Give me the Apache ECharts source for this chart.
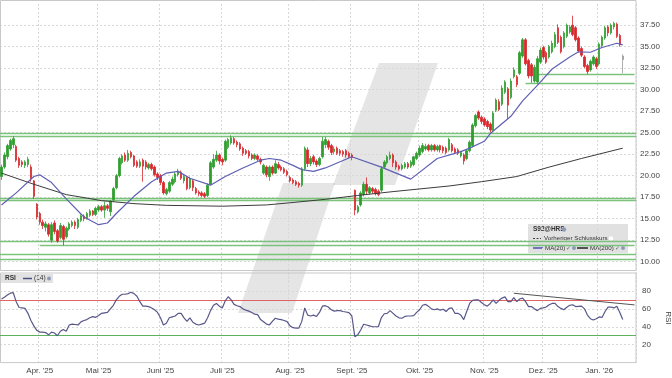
<!DOCTYPE html>
<html>
<head>
    <meta charset="utf-8"/>
    <title>S92 Kurs und RSI</title>
    <style type="text/css">
        html, body { margin: 0; padding: 0; background: #fff; }
        #main { width: 672px; height: 378px; }
    </style>
    <script type="text/javascript" src="https://cdn.jsdelivr.net/npm/echarts@6/dist/echarts.min.js"></script>
</head>
<body>
<div id="main"></div>
<script type="text/javascript">

    // Monate auf der x-Achse und Handelstage je Monat
    var months = ["Mär. '25", "Apr. '25", "Mai '25", "Juni '25", "Juli '25", "Aug. '25",
        "Sept. '25", "Okt. '25", "Nov. '25", "Dez. '25", "Jan. '26"];
    var monthDays = [13, 20, 21, 21, 23, 21, 23, 22, 20, 19, 9];
    var padDays = 4;

    // Tageskerzen (Eröffnung, Schluss, Tief, Hoch)
    var opens = [
        19.9, 21.0, 22.2, 23.1, 23.6, 23.4, 22.0, 21.6, 21.2, 21.3,
        21.0, 19.4, 16.7, 15.6, 14.6, 14.0, 14.3, 12.5, 14.5, 13.6,
        12.8, 14.1, 12.9, 13.8, 14.2, 14.6, 14.0, 14.8, 15.3, 15.0,
        15.4, 15.9, 15.5, 16.0, 16.4, 16.0, 16.5, 15.8, 17.2, 18.6,
        20.0, 21.5, 22.4, 21.8, 22.7, 22.3, 21.6, 21.1, 21.8, 21.6,
        20.9, 21.3, 21.0, 20.2, 20.0, 19.2, 17.9, 18.2, 19.0, 19.3,
        20.1, 20.4, 19.4, 19.8, 18.6, 19.4, 18.5, 18.1, 18.0, 17.9,
        17.7, 19.0, 21.0, 21.8, 22.4, 21.9, 21.8, 23.3, 23.8, 24.3,
        23.9, 23.7, 23.2, 22.9, 22.8, 22.4, 22.0, 22.3, 21.9, 20.3,
        21.0, 19.9, 21.0, 20.3, 21.3, 21.0, 20.8, 20.5, 19.8, 19.5,
        19.3, 19.1, 18.9, 20.8, 23.0, 21.4, 22.2, 21.7, 21.3, 22.2,
        23.6, 24.0, 23.5, 22.8, 23.2, 22.9, 22.8, 22.9, 22.6, 22.4,
        18.3, 15.8, 16.6, 17.8, 19.0, 18.0, 18.5, 18.4, 18.2, 18.3,
        21.0, 21.5, 22.0, 22.4, 21.6, 21.1, 20.8, 21.0, 21.4, 21.1,
        21.3, 22.0, 22.4, 22.8, 23.1, 23.5, 23.0, 23.5, 23.0, 23.5,
        23.3, 23.2, 23.0, 23.6, 23.1, 23.0, 22.3, 22.4, 22.0, 22.9,
        23.5, 25.8, 27.4, 26.8, 26.6, 26.3, 26.0, 25.3, 27.6, 28.6,
        28.3, 29.7, 30.1, 29.1, 31.5, 31.5, 31.9, 33.9, 35.8, 33.4,
        32.9, 31.0, 30.9, 33.2, 34.9, 34.3, 33.8, 34.4, 35.0, 37.2,
        36.1, 35.0, 36.2, 36.7, 37.5, 37.2, 36.0, 34.8, 33.8, 32.8,
        32.3, 33.0, 33.6, 33.0, 35.1, 36.0, 37.3, 36.6, 37.3, 37.6,
        36.3, 33.9
    ];
    var closes = [
        21.0, 22.4, 23.5, 24.1, 24.3, 21.8, 21.2, 21.3, 21.6, 21.9,
        19.7, 17.6, 15.2, 14.6, 14.2, 14.4, 13.2, 14.3, 13.5, 12.4,
        14.2, 12.6, 13.9, 14.4, 14.6, 14.2, 14.9, 15.3, 15.0, 15.6,
        15.9, 15.5, 16.2, 16.4, 16.0, 16.5, 16.2, 17.0, 18.5, 20.0,
        22.0, 22.3, 21.8, 22.6, 22.2, 21.2, 21.1, 21.6, 21.1, 21.0,
        21.3, 20.8, 20.1, 19.8, 19.2, 18.0, 18.4, 19.2, 19.6, 20.2,
        20.5, 19.7, 19.9, 18.5, 19.6, 18.6, 18.0, 17.9, 17.7, 17.6,
        18.9, 21.5, 21.9, 22.4, 21.7, 21.6, 24.0, 24.2, 24.4, 23.8,
        23.6, 23.1, 22.6, 22.6, 22.3, 22.0, 22.4, 21.9, 21.6, 21.2,
        20.1, 21.0, 20.3, 21.4, 20.9, 20.7, 20.4, 20.1, 19.4, 19.2,
        19.0, 18.9, 20.8, 23.2, 21.4, 22.0, 21.6, 21.3, 22.0, 24.0,
        24.2, 23.3, 22.7, 23.1, 22.6, 22.6, 22.5, 22.4, 22.2, 22.1,
        16.0, 16.4, 18.0, 19.0, 18.2, 18.6, 18.2, 17.9, 17.8, 20.8,
        21.6, 22.2, 22.4, 21.5, 21.0, 20.8, 21.2, 21.4, 21.0, 21.6,
        22.2, 22.6, 23.2, 23.5, 23.4, 23.0, 23.5, 23.0, 23.4, 23.0,
        22.9, 22.7, 24.2, 22.9, 22.7, 22.6, 22.7, 21.7, 22.9, 23.9,
        25.9, 27.0, 26.7, 26.3, 25.9, 25.7, 25.3, 27.3, 28.8, 27.7,
        30.2, 30.9, 28.2, 31.0, 32.3, 30.6, 34.3, 35.8, 33.0, 31.6,
        31.6, 32.6, 33.6, 34.6, 33.8, 33.2, 35.0, 35.4, 36.4, 35.5,
        34.4, 36.6, 37.5, 37.3, 36.4, 35.8, 34.5, 34.0, 32.7, 32.1,
        33.3, 33.8, 32.7, 35.3, 36.1, 37.2, 36.6, 37.5, 37.7, 36.2,
        35.2, 33.5
    ];
    var lows = [
        19.5, 20.8, 21.9, 22.9, 23.2, 21.6, 20.9, 21.0, 20.9, 21.0,
        19.3, 17.3, 14.9, 14.3, 13.8, 13.5, 12.9, 12.2, 13.2, 12.2,
        12.6, 11.9, 12.7, 13.6, 14.0, 13.8, 13.8, 14.6, 14.7, 14.9,
        15.2, 15.3, 15.3, 15.8, 15.8, 15.1, 15.9, 15.3, 17.0, 18.4,
        19.8, 21.3, 21.6, 21.6, 22.0, 21.0, 20.9, 20.9, 19.3, 20.7,
        20.7, 20.6, 19.9, 19.5, 18.9, 17.8, 17.7, 18.0, 18.8, 19.1,
        19.9, 19.5, 19.1, 18.3, 18.4, 18.2, 17.8, 17.6, 17.5, 17.4,
        17.5, 18.9, 20.8, 21.6, 21.3, 21.2, 21.6, 23.1, 23.6, 23.6,
        23.3, 22.9, 22.3, 22.4, 22.0, 21.8, 21.8, 21.7, 21.3, 20.1,
        19.8, 19.4, 20.1, 20.2, 20.7, 20.5, 20.2, 19.9, 19.2, 19.0,
        18.8, 18.6, 18.7, 20.6, 21.0, 21.1, 21.3, 21.0, 21.1, 22.0,
        23.2, 23.0, 22.4, 22.5, 22.4, 22.3, 22.2, 22.1, 22.0, 21.8,
        15.4, 15.6, 16.4, 17.6, 17.8, 17.8, 17.9, 17.7, 17.6, 18.1,
        20.8, 21.3, 21.8, 21.0, 20.7, 20.6, 20.6, 20.8, 20.8, 20.9,
        21.1, 21.8, 22.2, 22.6, 22.9, 22.8, 22.8, 22.8, 22.8, 22.7,
        22.6, 22.5, 22.8, 22.7, 22.5, 22.4, 22.1, 21.3, 21.8, 22.7,
        23.3, 25.6, 26.5, 26.0, 25.7, 25.4, 25.0, 25.1, 27.4, 27.5,
        28.1, 29.5, 26.6, 28.9, 31.3, 30.3, 31.7, 33.7, 32.8, 31.3,
        30.8, 30.8, 30.7, 33.0, 33.5, 33.0, 33.6, 34.2, 34.8, 35.3,
        34.2, 34.8, 36.0, 36.5, 36.2, 35.6, 34.3, 33.8, 32.5, 31.8,
        32.1, 32.8, 32.4, 32.8, 34.9, 35.8, 36.2, 36.4, 37.0, 36.0,
        35.0, 31.9
    ];
    var highs = [
        21.3, 22.7, 23.7, 24.3, 24.6, 23.6, 22.2, 21.8, 21.8, 22.2,
        21.3, 19.5, 16.8, 15.8, 14.9, 14.7, 14.5, 14.6, 14.8, 13.8,
        14.5, 14.3, 14.1, 14.6, 14.8, 14.8, 15.1, 15.5, 15.5, 15.8,
        16.1, 16.0, 16.4, 16.6, 16.6, 17.0, 16.7, 17.2, 18.7, 20.2,
        22.2, 22.5, 22.7, 23.0, 22.9, 22.4, 21.8, 21.9, 22.0, 21.8,
        21.5, 21.5, 21.2, 20.4, 20.2, 19.4, 18.6, 19.4, 19.9, 20.4,
        20.8, 20.6, 20.2, 20.0, 19.9, 19.6, 18.7, 18.3, 18.2, 18.1,
        19.1, 21.7, 22.5, 22.9, 22.6, 22.1, 24.2, 24.4, 24.7, 24.5,
        24.1, 23.9, 23.4, 23.1, 23.0, 22.6, 22.6, 22.5, 22.1, 21.4,
        21.2, 21.2, 21.2, 21.8, 21.6, 21.2, 21.0, 20.7, 20.0, 19.7,
        19.5, 19.3, 21.0, 23.4, 23.3, 22.3, 22.4, 21.9, 22.2, 24.5,
        24.5, 24.2, 23.7, 23.4, 23.4, 23.1, 23.0, 23.1, 22.8, 22.6,
        18.4, 16.6, 18.2, 19.3, 19.8, 18.8, 18.7, 18.6, 18.4, 21.1,
        21.8, 22.4, 22.8, 22.6, 21.8, 21.3, 21.4, 21.6, 21.6, 21.8,
        22.3, 22.8, 23.5, 23.8, 23.7, 23.7, 23.7, 23.7, 23.6, 23.6,
        23.5, 23.4, 24.4, 23.8, 23.3, 23.2, 22.9, 22.6, 23.1, 24.1,
        26.1, 27.2, 27.6, 27.0, 26.8, 26.5, 26.2, 27.5, 29.0, 28.9,
        30.5, 31.1, 30.3, 31.3, 32.6, 31.7, 34.5, 36.0, 36.0, 33.6,
        33.1, 32.9, 33.9, 34.9, 35.1, 34.5, 35.2, 35.7, 36.7, 37.6,
        36.3, 36.8, 37.7, 37.5, 38.6, 37.4, 36.2, 35.0, 34.0, 33.0,
        33.5, 34.0, 33.8, 35.5, 36.3, 37.4, 37.5, 37.7, 37.9, 37.8,
        36.5, 34.1
    ];

    // gleitende Durchschnitte: [Handelstag, Wert]
    var ma20 = [[0, 16.6], [5, 18.0], [11, 19.9], [13, 20.1], [17, 19.2], [22, 17.3], [28, 15.2],
        [33, 14.3], [36, 14.5], [39, 15.6], [45, 17.6], [51, 19.3], [56, 20.3], [60, 20.5],
        [64, 19.7], [71, 18.9], [76, 19.9], [82, 20.9], [88, 21.8], [91, 22.0], [95, 21.8],
        [99, 21.2], [102, 20.7], [106, 20.5], [110, 20.9], [119, 22.2], [129, 21.0],
        [139, 19.6], [148, 22.0], [156, 22.8], [159, 23.2], [164, 24.0], [166, 24.9],
        [173, 26.9], [177, 28.7], [182, 30.5], [187, 32.4], [193, 33.8], [196, 34.4],
        [200, 34.35], [204, 34.9], [209, 35.4], [211, 35.2]];
    var ma200 = [[0, 20.3], [11, 19.0], [22, 17.8], [34, 17.1], [45, 16.75], [56, 16.55],
        [75, 16.45], [90, 16.6], [98, 16.85], [110, 17.25], [121, 17.7], [133, 18.15],
        [152, 18.8], [163, 19.3], [175, 19.9], [186, 21.0], [197, 22.0], [211, 23.2]];

    // RSI (14)
    var rsi = [
        71, 73, 75.5, 77.5, 78, 68, 61.5, 61, 60.5, 55,
        47, 41, 36, 34, 34, 33.5, 31, 34, 33, 30,
        35, 37, 35, 42, 43, 42.5, 42, 45.5, 47, 48,
        50, 51.3, 50.5, 52.5, 55, 55.5, 56, 60, 64, 70,
        74, 76.3, 76.3, 77, 78.5, 77, 74, 68, 63, 63,
        62.5, 61, 59, 56, 50, 42, 44, 50, 51, 52,
        55, 55, 50, 46, 50, 45, 43, 42, 43, 44,
        50, 58, 64, 66, 63, 61, 69, 73.5, 70, 65,
        63.5, 62.5, 60, 58.5, 57.5, 56, 54, 53.5, 48, 45.5,
        43, 42, 46, 49.5, 48.5, 48, 47, 45.7, 41, 39,
        38.5, 38.5, 46, 61, 53, 52, 53, 51.5, 56, 63,
        63.5, 62, 59, 57.5, 58, 58, 57, 56.5, 55.7, 52,
        29, 31, 36.4, 42.8, 42, 41, 40, 40, 40, 50,
        54.5, 55, 58, 55, 52, 50, 49.5, 51.5, 52, 52,
        52.5, 56, 59, 64, 65, 63, 60, 59, 60, 58.5,
        59.6, 57, 60.5, 61, 55, 55, 53, 48, 57, 66,
        69.5, 70, 70, 67, 64.6, 63, 66, 70, 66, 69.5,
        72, 73.3, 68, 68, 72.5, 68, 71, 72, 68, 62.5,
        62.5, 60, 58, 60.5, 61, 62, 64.6, 66, 66, 62.5,
        60.5, 59, 61.8, 64, 64.5, 62.5, 62.8, 63, 60, 53,
        49, 47.5, 49, 51, 50.5, 57, 62, 62, 61, 63,
        56, 48
    ];

    // Unterstützungen / Widerstände
    var supportLines = [24.9, 24.55, 17.4, 17.15, 12.33, 10.9, 10.3];
    var partialLines = [[13, 11.9], [178, 30.8], [182, 31.83]];
    var rsiLevels = [70, 30];
    var rsiTrend = [[174, 77.4], [215, 64.4]];

    var categories = [];
    var labelAt = {};
    months.forEach(function (m, k) {
        if (k > 0) {
            labelAt[categories.length] = m;
        }
        for (var d = 0; d < monthDays[k]; d++) {
            categories.push(m + ' ' + (d + 1));
        }
    });
    for (var p = 0; p < padDays; p++) {
        categories.push('frei ' + p);
    }
    var lastIdx = categories.length - 1;

    var candles = opens.map(function (o, i) {
        var item = {value: [o, closes[i], lows[i], highs[i]]};
        if (i === opens.length - 1) {
            // laufender Handelstag grau
            item.itemStyle = {color: '#9a9a9a', color0: '#9a9a9a', borderColor: '#9a9a9a', borderColor0: '#9a9a9a'};
        }
        return item;
    });

    var isMonthStart = function (i) {
        return labelAt[i] !== undefined;
    };

    var priceMarks = supportLines.map(function (v) {
        return {yAxis: v};
    });
    partialLines.forEach(function (pl) {
        priceMarks.push([{coord: [pl[0], pl[1]]}, {coord: [lastIdx, pl[1]]}]);
    });

    var rsiMarks = [
        {yAxis: rsiLevels[0], lineStyle: {color: '#e06464', width: 1, type: 'solid'}},
        {yAxis: rsiLevels[1], lineStyle: {color: '#5cb25c', width: 1, type: 'solid'}},
        [{coord: rsiTrend[0], lineStyle: {color: '#555', width: 1, type: 'solid'}}, {coord: rsiTrend[1]}]
    ];

    var font = 'Liberation Sans, Arial, sans-serif';
    var gridLine = {color: '#d8d8d8', type: [2, 2], width: 1};

    var myChart = echarts.init(document.getElementById('main'));

    var option = {
        animation: false,
        backgroundColor: '#fff',
        textStyle: {fontFamily: font},
        grid: [
            {left: 0, right: 36, top: 4, height: 279.2, outerBoundsMode: 'none'},
            {left: 0, right: 36, top: 273, height: 89.6, outerBoundsMode: 'none'}
        ],
        xAxis: [
            {
                type: 'category', gridIndex: 0, data: categories, boundaryGap: true,
                axisLine: {show: false}, axisTick: {show: false}, axisLabel: {show: false},
                splitLine: {show: true, interval: isMonthStart, lineStyle: gridLine}
            },
            {
                type: 'category', gridIndex: 1, data: categories, boundaryGap: true,
                axisLine: {show: false}, axisTick: {show: false},
                axisLabel: {
                    interval: isMonthStart, margin: 4, fontSize: 8, color: '#444', fontFamily: font,
                    formatter: function (v, i) {
                        return labelAt[i] || '';
                    }
                },
                splitLine: {show: true, interval: isMonthStart, lineStyle: gridLine}
            }
        ],
        yAxis: [
            {
                type: 'value', gridIndex: 0, position: 'right', min: 7.5, max: 39.96, interval: 2.5,
                axisLine: {show: false}, axisTick: {show: false},
                axisLabel: {
                    margin: 4, fontSize: 8, color: '#444', fontFamily: font,
                    showMinLabel: false, showMaxLabel: false,
                    formatter: function (v) {
                        return v.toFixed(2);
                    }
                },
                splitLine: {show: true, showMinLine: false, showMaxLine: false, lineStyle: gridLine},
                name: 'Kurs', nameLocation: 'middle', nameRotate: -90, nameGap: 28,
                nameTextStyle: {fontSize: 8, color: '#444', fontFamily: font}
            },
            {
                type: 'value', gridIndex: 1, position: 'right', min: 0, max: 100, interval: 20,
                axisLine: {show: false}, axisTick: {show: false},
                axisLabel: {margin: 6, fontSize: 8, color: '#444', fontFamily: font, showMinLabel: false, showMaxLabel: false},
                splitLine: {show: true, showMinLine: false, showMaxLine: false, lineStyle: gridLine},
                name: 'RSI', nameLocation: 'middle', nameRotate: -90, nameGap: 28,
                nameTextStyle: {fontSize: 8, color: '#444', fontFamily: font}
            }
        ],
        series: [
            {
                name: 'S92@HRS', type: 'candlestick', xAxisIndex: 0, yAxisIndex: 0,
                data: candles, barWidth: 2, z: 3,
                itemStyle: {color: '#2f9e2f', color0: '#d8282d', borderColor: '#2f9e2f', borderColor0: '#d8282d', borderWidth: 0.8},
                markLine: {
                    silent: true, symbol: ['none', 'none'], label: {show: false}, z: 2,
                    lineStyle: {color: '#7cc27c', width: 1.3, type: 'solid'},
                    data: priceMarks
                }
            },
            {
                name: 'MA(200)', type: 'line', xAxisIndex: 0, yAxisIndex: 0, data: ma200,
                showSymbol: false, z: 4, lineStyle: {color: '#3c3c3c', width: 1}
            },
            {
                name: 'MA(20)', type: 'line', xAxisIndex: 0, yAxisIndex: 0, data: ma20,
                showSymbol: false, z: 5, lineStyle: {color: '#5f5fb4', width: 1.2}
            },
            {
                name: 'RSI', type: 'line', xAxisIndex: 1, yAxisIndex: 1, data: rsi,
                showSymbol: false, z: 5, lineStyle: {color: '#57578a', width: 1.2},
                markLine: {silent: true, symbol: ['none', 'none'], label: {show: false}, data: rsiMarks}
            }
        ],
        graphic: [
            // Wasserzeichen
            {
                type: 'polygon', z: 0, silent: true,
                shape: {points: [[379, 63], [438, 63], [395, 185], [333, 185]]},
                style: {fill: 'rgba(0,0,0,0.1)'}
            },
            {
                type: 'polygon', z: 0, silent: true,
                shape: {points: [[283, 183], [335, 183], [292, 313], [238, 313]]},
                style: {fill: 'rgba(0,0,0,0.1)'}
            },
            // Rahmen der Panels
            {type: 'rect', z: 1, silent: true, shape: {x: 0.5, y: 0.5, width: 635.5, height: 270}, style: {fill: null, stroke: '#c8c8c8', lineWidth: 1}},
            {type: 'rect', z: 1, silent: true, shape: {x: 0.5, y: 273, width: 635.5, height: 89.6}, style: {fill: null, stroke: '#c8c8c8', lineWidth: 1}},
            // Legende Kurs
            {
                type: 'group', left: 528, top: 224, z: 100,
                children: [
                    {type: 'rect', shape: {x: 0, y: 0, width: 100, height: 29}, style: {fill: 'rgba(222,222,222,0.9)'}},
                    {type: 'text', style: {x: 5, y: 5.5, text: 'S92@HRS', font: 'bold 6.5px ' + font, fill: '#333', verticalAlign: 'middle'}},
                    {type: 'circle', shape: {cx: 36, cy: 5.5, r: 2.2}, style: {fill: '#8d9bb8'}},
                    {type: 'line', shape: {x1: 5, y1: 14.5, x2: 13, y2: 14.5}, style: {stroke: '#444', lineWidth: 1, lineDash: [2, 1.5]}},
                    {type: 'text', style: {x: 16, y: 14.5, text: 'Vorheriger Schlusskurs', font: '6.2px ' + font, fill: '#333', verticalAlign: 'middle'}},
                    {type: 'circle', shape: {cx: 83, cy: 14.5, r: 2.2}, style: {fill: '#fff'}},
                    {type: 'line', shape: {x1: 5, y1: 24, x2: 15, y2: 24}, style: {stroke: '#4d4db0', lineWidth: 1.5}},
                    {type: 'text', style: {x: 17, y: 24, text: 'MA(20)', font: '6.2px ' + font, fill: '#333', verticalAlign: 'middle'}},
                    {type: 'text', style: {x: 38, y: 24, text: '\u2713', font: '6px ' + font, fill: '#666', verticalAlign: 'middle'}},
                    {type: 'circle', shape: {cx: 46, cy: 24, r: 2}, style: {fill: '#8d9bb8'}},
                    {type: 'line', shape: {x1: 49, y1: 24, x2: 60, y2: 24}, style: {stroke: '#222', lineWidth: 1.5}},
                    {type: 'text', style: {x: 62, y: 24, text: 'MA(200)', font: '6.2px ' + font, fill: '#333', verticalAlign: 'middle'}},
                    {type: 'text', style: {x: 87, y: 24, text: '\u2713', font: '6px ' + font, fill: '#666', verticalAlign: 'middle'}},
                    {type: 'circle', shape: {cx: 95, cy: 24, r: 2}, style: {fill: '#8d9bb8'}}
                ]
            },
            // Legende RSI
            {
                type: 'group', left: 1, top: 274, z: 100,
                children: [
                    {type: 'rect', shape: {x: 0, y: 0, width: 52, height: 9}, style: {fill: '#e2e2e2'}},
                    {type: 'text', style: {x: 4, y: 4.5, text: 'RSI', font: 'bold 6.5px ' + font, fill: '#333', verticalAlign: 'middle'}},
                    {type: 'line', shape: {x1: 22, y1: 4.5, x2: 31, y2: 4.5}, style: {stroke: '#4d4d88', lineWidth: 1.5}},
                    {type: 'text', style: {x: 33, y: 4.5, text: '(14)', font: '6.5px ' + font, fill: '#333', verticalAlign: 'middle'}},
                    {type: 'circle', shape: {cx: 48, cy: 4.5, r: 2}, style: {fill: '#8d9bb8'}}
                ]
            }
        ]
    };

    myChart.setOption(option);

</script>
</body>
</html>
